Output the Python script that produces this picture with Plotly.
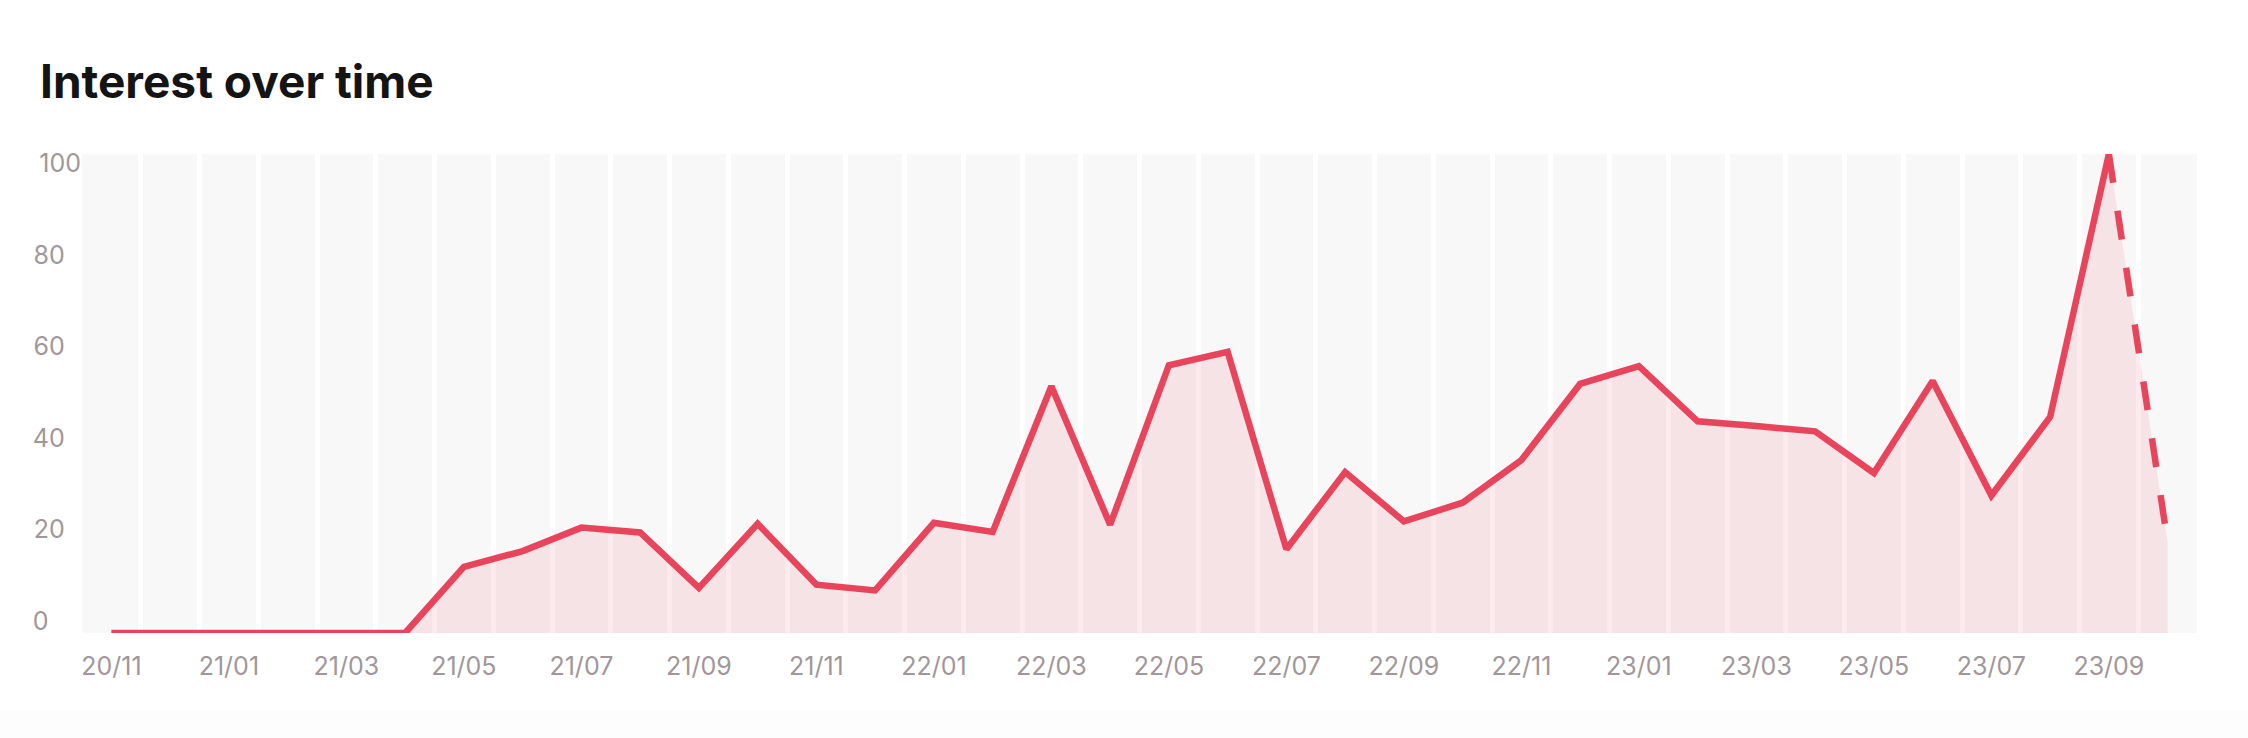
import plotly.graph_objects as go

# Monthly interest values (index 0 = 20/11 ... index 35 = 23/10)
months = [
    "20/11", "20/12", "21/01", "21/02", "21/03", "21/04", "21/05", "21/06",
    "21/07", "21/08", "21/09", "21/10", "21/11", "21/12", "22/01", "22/02",
    "22/03", "22/04", "22/05", "22/06", "22/07", "22/08", "22/09", "22/10",
    "22/11", "22/12", "23/01", "23/02", "23/03", "23/04", "23/05", "23/06",
    "23/07", "23/08", "23/09", "23/10",
]
interest = [
    0, 0, 0, 0, 0, 0, 13.8, 17.1,
    22.0, 21.0, 9.4, 22.8, 10.1, 8.9, 23.0, 21.1,
    51.5, 22.6, 55.9, 58.7, 17.5, 33.6, 23.3, 27.2,
    36.1, 52.0, 55.7, 44.2, 43.2, 42.1, 33.4, 52.6,
    28.7, 45.1, 100, 19.0,
]
y_ticks = [0, 20, 40, 60, 80, 100]
y_labels = ["0\u2007\u2007", "20\u2007", "40\u2007", "60\u2007", "80\u2007", "100"]

RED = "#E8445C"
GREY_TEXT = "#9f979a"
FONT = "Inter"

idx = list(range(len(months)))
last = len(months) - 1

fig = go.Figure()

# shaded area under the whole series
fig.add_trace(go.Scatter(
    x=idx, y=interest, mode="lines", line=dict(width=0),
    fill="tozeroy", fillcolor="rgba(225, 60, 90, 0.11)",
    hoverinfo="skip", showlegend=False,
))
# solid part
fig.add_trace(go.Scatter(
    x=idx[:last], y=interest[:last], mode="lines",
    line=dict(color=RED, width=6.5), cliponaxis=False, showlegend=False,
))
# last (partial) month dashed
fig.add_trace(go.Scatter(
    x=idx[last - 1:], y=interest[last - 1:], mode="lines",
    line=dict(color=RED, width=6.5, dash="29px,28.5px"), cliponaxis=False, showlegend=False,
))
# carrier for the y labels axis
fig.add_trace(go.Scatter(x=[None], y=[None], yaxis="y2", showlegend=False, hoverinfo="skip"))

fig.update_layout(
    width=2248, height=738,
    margin=dict(l=82, r=51, t=154, b=105, pad=0),
    paper_bgcolor="white", plot_bgcolor="#f8f8f8",
    font=dict(family=FONT, size=25, color=GREY_TEXT),
    title=dict(
        text="Interest over time",
        font=dict(family=FONT, size=46, color="#141414", weight="bold"),
        x=40 / 2248, xanchor="left", xref="container",
        y=0.889, yanchor="middle", yref="container",
    ),
    xaxis=dict(
        range=[-0.5, last + 0.5],
        tickvals=idx[::2], ticktext=months[::2],
        showgrid=False, zeroline=False, ticks="", showline=False,
        ticklabelstandoff=16,
        tickfont=dict(size=25, color=GREY_TEXT),
        minor=dict(tickvals=[i - 0.5 for i in range(len(months) + 1)],
                   showgrid=True, gridcolor="white", gridwidth=4.5, ticks=""),
    ),
    yaxis=dict(range=[0, 100], showticklabels=False, showgrid=False, zeroline=False),
    yaxis2=dict(
        overlaying="y", side="left", range=[-2.56, 102.08],
        tickvals=y_ticks, ticktext=y_labels,
        showgrid=False, zeroline=False, ticks="",
        tickfont=dict(size=25, color=GREY_TEXT),
    ),
    shapes=[dict(type="rect", xref="paper", yref="paper", x0=-0.1, x1=1.1,
                 y0=-0.23, y1=-0.16, fillcolor="#fdfdfd", line_width=0, layer="below")],
)

fig.write_html("out.html", config={"displayModeBar": False},
               post_script="document.body.style.margin='0';")
